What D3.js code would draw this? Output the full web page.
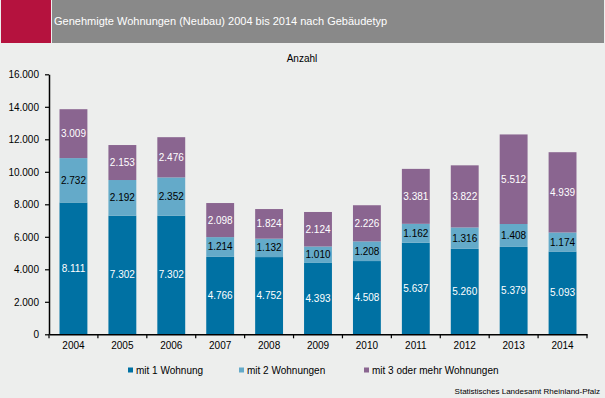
<!DOCTYPE html>
<html><head><meta charset="utf-8">
<script src="https://cdn.jsdelivr.net/npm/d3@7"></script>
<style>
html,body{margin:0;padding:0;background:#EDEEED;}
svg{display:block;font-family:"Liberation Sans",Arial,sans-serif;}
</style></head>
<body>
<svg id="chart" width="605" height="398"></svg>
<script>
const years = ["2004","2005","2006","2007","2008","2009","2010","2011","2012","2013","2014"];
const mit1 = [8111,7302,7302,4766,4752,4393,4508,5637,5260,5379,5093];
const mit2 = [2732,2192,2352,1214,1132,1010,1208,1162,1316,1408,1174];
const mit3 = [3009,2153,2476,2098,1824,2124,2226,3381,3822,5512,4939];
const seriesNames = ["mit 1 Wohnung","mit 2 Wohnungen","mit 3 oder mehr Wohnungen"];
const colors = ["#0071A3","#64AAC9","#8A6590"];
const labelColors = ["#ffffff","#000000","#ffffff"];
const yTicks = [0,2000,4000,6000,8000,10000,12000,14000,16000];

const svg = d3.select("#chart");
svg.append("rect").attr("width",605).attr("height",398).attr("fill","#EDEEED");
// header
svg.append("rect").attr("x",1).attr("y",0).attr("width",50).attr("height",43).attr("fill","#B5123E");
svg.append("rect").attr("x",52).attr("y",0).attr("width",552).attr("height",43).attr("fill","#898989");
svg.append("text").attr("x",54).attr("y",25).attr("fill","#ffffff").attr("font-size",11)
  .text("Genehmigte Wohnungen (Neubau) 2004 bis 2014 nach Gebäudetyp");
svg.append("text").attr("x",302).attr("y",62).attr("text-anchor","middle").attr("fill","#000").attr("font-size",10)
  .text("Anzahl");

const x0 = 49, x1 = 587, yTop = 74.3, yBot = 334.3;
const x = d3.scaleBand().domain(years).range([x0,x1]).paddingInner(0.43).paddingOuter(0.215);
const y = d3.scaleLinear().domain([0,16000]).range([yBot,yTop]);

const data = years.map((yr,i)=>({year:yr, mit1:mit1[i], mit2:mit2[i], mit3:mit3[i]}));
const keys = ["mit1","mit2","mit3"];
const stack = d3.stack().keys(keys)(data);

const g = svg.append("g");
stack.forEach((s,si)=>{
  g.selectAll(null).data(s).enter().append("rect")
    .attr("x",d=>x(d.data.year)).attr("width",x.bandwidth())
    .attr("y",d=>y(d[1])).attr("height",d=>y(d[0])-y(d[1]))
    .attr("fill",colors[si]);
  g.selectAll(null).data(s).enter().append("text")
    .attr("x",d=>x(d.data.year)+x.bandwidth()/2)
    .attr("y",d=>(y(d[0])+y(d[1]))/2+3.5)
    .attr("text-anchor","middle").attr("font-size",10).attr("fill",labelColors[si])
    .text(d=>d3.format(",")(d[1]-d[0]).replace(/,/g,"."));
});

// y axis
const fmt = v => d3.format(",")(v).replace(/,/g,".");
const yAxis = svg.append("g").attr("transform",`translate(${x0},0)`)
  .call(d3.axisLeft(y).tickValues(yTicks).tickFormat(fmt).tickSize(4).tickSizeOuter(0));
yAxis.select(".domain").attr("stroke","#000").attr("stroke-width",1.5);
yAxis.selectAll(".tick line").attr("stroke","#000").attr("stroke-width",1.2);
yAxis.selectAll("text").attr("font-size",10).attr("font-family","Liberation Sans, Arial, sans-serif").attr("fill","#000").attr("x",-10);

// x axis
const xAxis = svg.append("g").attr("transform",`translate(0,${yBot})`)
  .call(d3.axisBottom(x).tickSize(0).tickSizeOuter(0));
xAxis.select(".domain").attr("stroke","#000").attr("stroke-width",1.5);
xAxis.selectAll("text").attr("font-size",10).attr("font-family","Liberation Sans, Arial, sans-serif").attr("fill","#000").attr("dy",0).attr("y",15);
// category boundary ticks
const bounds = years.map((yr)=>x(yr)-x.step()*x.paddingInner()/2).concat([x1]);
xAxis.selectAll(".bt").data(bounds).enter().append("line")
  .attr("x1",d=>d).attr("x2",d=>d).attr("y1",0).attr("y2",4)
  .attr("stroke","#000").attr("stroke-width",1.2);

// legend
const legX = [128,239,364];
seriesNames.forEach((n,i)=>{
  svg.append("rect").attr("x",legX[i]).attr("y",367.5).attr("width",5).attr("height",5).attr("fill",colors[i]);
  svg.append("text").attr("x",legX[i]+8).attr("y",374).attr("font-size",10).attr("fill","#000").text(n);
});
svg.append("text").attr("x",600).attr("y",394).attr("text-anchor","end").attr("font-size",8).attr("fill","#000")
  .text("Statistisches Landesamt Rheinland-Pfalz");
</script>
</body></html>
